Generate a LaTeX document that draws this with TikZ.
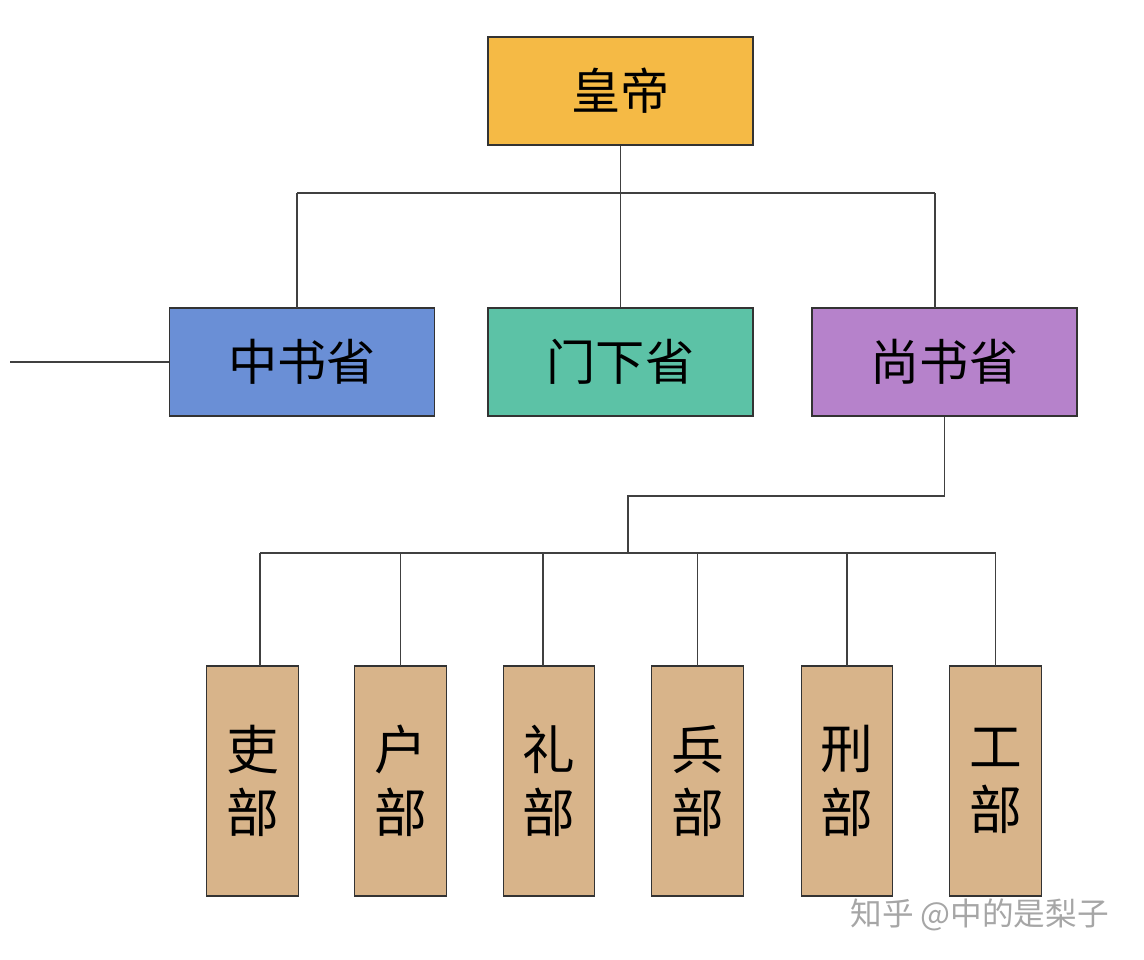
\documentclass[tikz,border=0pt]{standalone}
\usepackage{fontspec}
\setmainfont{Noto Sans CJK SC}
\usetikzlibrary{positioning}
\usetikzlibrary{calc}
\definecolor{emperor}{HTML}{F5BA45}
\definecolor{zhongshu}{HTML}{6A8FD6}
\definecolor{menxia}{HTML}{5CC2A6}
\definecolor{shangshu}{HTML}{B682CB}
\definecolor{ministry}{HTML}{D8B48A}
\begin{document}
\begin{tikzpicture}[x=0.02cm, y=-0.02cm,
        Office/.style={rectangle, draw=black!80, thick, minimum width=5.3cm, minimum height=2.16cm, font=\fontsize{28}{30}\selectfont},
        Ministry/.style={rectangle, draw=black!80, thick, fill=ministry, minimum width=1.83cm, minimum height=4.6cm, align=center, font=\fontsize{30}{36}\selectfont},
        Link/.style={draw=black!75, thick},
        ]
            \useasboundingbox (0,0) rectangle (1144,960);
            \node[Office, fill=emperor] (emp) at (620.5,91) {皇帝};
            \node[Office, fill=zhongshu] (zs) at (302,362) {中书省};
            \node[Office, fill=menxia] (mx) at (620.5,362) {门下省};
            \node[Office, fill=shangshu] (ss) at (944.5,362) {尚书省};
            \node[Ministry] (li) at (252.5,781) {吏\\部};
            \node[Ministry] (hu) at (400.5,781) {户\\部};
            \node[Ministry] (lii) at (549,781) {礼\\部};
            \node[Ministry] (bing) at (697.5,781) {兵\\部};
            \node[Ministry] (xing) at (847,781) {刑\\部};
            \node[Ministry] (gong) at (995.5,781) {工\\部};
            % connectors
            \coordinate (top) at (620.5,193);
            \coordinate (side) at (10,362);
            \coordinate (mid) at (628,496);
            \coordinate (bar) at (628,553);
            \draw[Link] (emp) -- (top);
            \draw[Link] (297,193) -- (935,193);
            \draw[Link] (297,193) -- (297,308);
            \draw[Link] (top) -- (mx);
            \draw[Link] (935,193) -- (935,308);
            \draw[Link] (side) -- (zs);
            \draw[Link] (ss) |- (mid) -- (bar);
            \draw[Link] (260,553) -- (995.5,553);
            \draw[Link] (260,553) -- (260,666);
            \foreach \n/\x in {hu/400.5, lii/543, bing/697.5, xing/847, gong/995.5}
                \draw[Link] (\x,553) -- (\x,666);
            \node[text=black!35, font=\fontsize{18}{20}\selectfont, anchor=east] (mark) at (1115,915) {知乎 @中的是梨子};
        \end{tikzpicture}
\end{document}
